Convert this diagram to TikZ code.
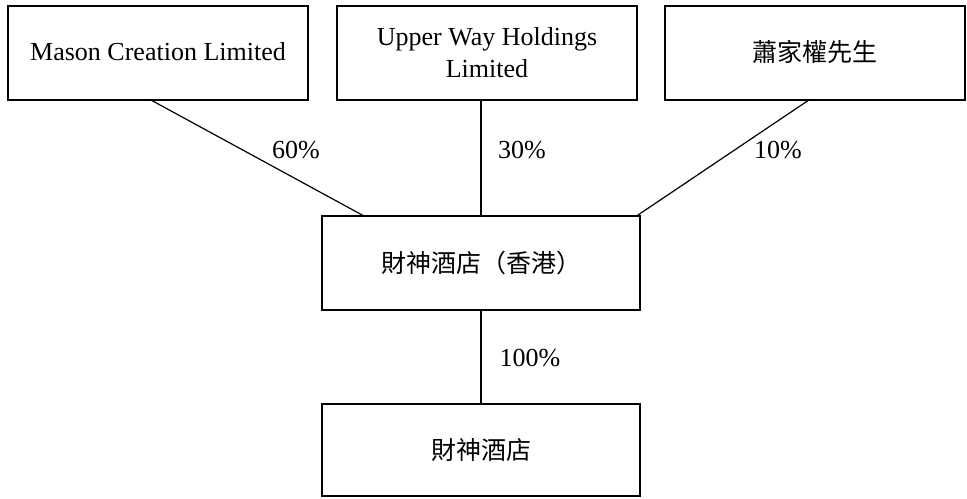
\documentclass[tikz,border=0pt]{standalone}
\usepackage{fontspec}
\setmainfont{Liberation Serif}
\newfontfamily\cjk{Noto Sans CJK TC}
\usetikzlibrary{calc}

\begin{document}
\begin{tikzpicture}[x=0.5pt,y=-0.5pt,
    every node/.style={font=\fontsize{13}{16}\selectfont},
    owner/.style={draw,line width=0.6pt,minimum width=150pt,minimum height=47pt,inner sep=0pt,align=center},
    firm/.style={draw,line width=0.6pt,minimum width=159pt,minimum height=47pt,inner sep=0pt},
    share/.style={line width=0.6pt}]
        \useasboundingbox (0,0) rectangle (967,498);
        \node[owner] (mason) at (158,53) {\raisebox{2pt}{Mason Creation Limited}};
        \node[owner] (upper) at (487,53) {Upper Way Holdings\\Limited};
        \node[owner] (siu) at (815,53) {\cjk\fontsize{12.5}{16}\selectfont\raisebox{2pt}{蕭家權先生}};
        \node[firm] (hk) at (481,263) {\cjk\fontsize{12.5}{16}\selectfont 財神酒店（香港）};
        \node[firm,minimum height=46pt] (hotel) at (481,450) {\cjk\fontsize{12.5}{16}\selectfont 財神酒店};
        \draw[share] ([xshift=-3pt]mason.south) -- ($(hk.north west)!0.13!(hk.north east)$);
        \draw[share] (hk.north) -- (hk.north |- upper.south);
        \draw[share] ([xshift=-3.5pt]siu.south) -- ($(hk.north west)!0.99!(hk.north east)$);
        \draw[share] (hk.south) -- (hotel.north);
        \node (p60) at (296,150) {60\%};
        \node (p30) at (522,150) {30\%};
        \node (p10) at (778,150) {10\%};
        \node (p100) at (530,358) {100\%};
    \end{tikzpicture}
\end{document}
